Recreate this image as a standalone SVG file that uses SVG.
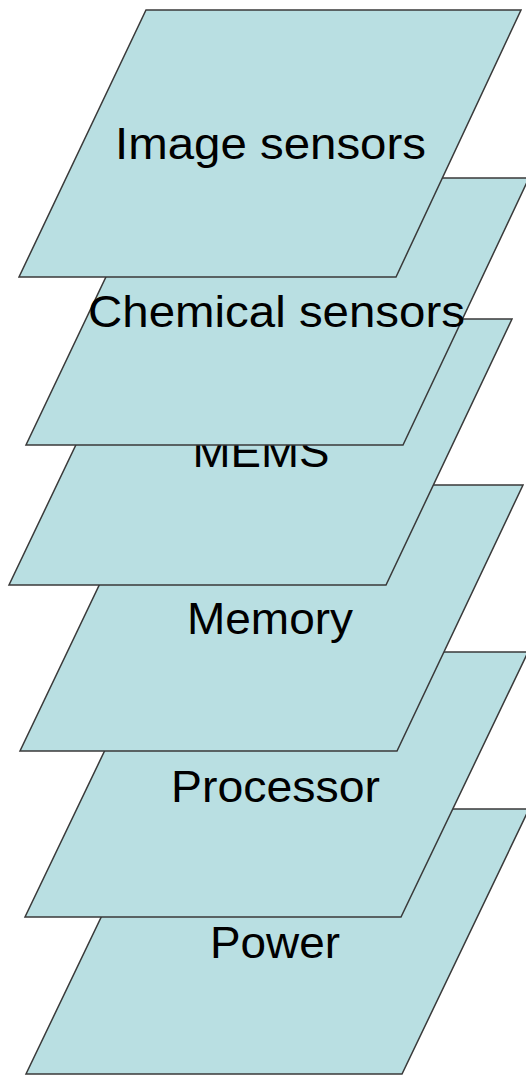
<svg xmlns="http://www.w3.org/2000/svg" width="526" height="1077" viewBox="0 0 526 1077">
  <style>
    .layer { fill: #b9dfe2; stroke: #3a3a3a; stroke-width: 1.5; stroke-linejoin: miter; }
    .label { font-family: "Liberation Sans", Arial, sans-serif; font-size: 45px; fill: #000; text-anchor: middle; }
  </style>
  <rect width="526" height="1077" fill="#ffffff"/>
  <!-- layers drawn bottom-up so each one overlaps the one below -->
  <g id="power">
    <polygon class="layer" points="153,809 529,809 402,1074 26,1074"/>
    <text class="label" x="275" y="958" textLength="130" lengthAdjust="spacingAndGlyphs">Power</text>
  </g>
  <g id="processor">
    <polygon class="layer" points="152,652 528,652 401,917 25,917"/>
    <text class="label" x="275.5" y="802" textLength="209" lengthAdjust="spacingAndGlyphs">Processor</text>
  </g>
  <g id="memory">
    <polygon class="layer" points="147,485 523,485 397,751 20,751"/>
    <text class="label" x="270" y="634" textLength="166" lengthAdjust="spacingAndGlyphs">Memory</text>
  </g>
  <g id="mems">
    <polygon class="layer" points="136,319 512,319 386,585 9,585"/>
    <text class="label" x="261" y="467" textLength="137" lengthAdjust="spacingAndGlyphs">MEMS</text>
  </g>
  <g id="chemical-sensors">
    <polygon class="layer" points="153,178 529,178 403,445 26,445"/>
    <text class="label" x="276.5" y="327" textLength="377" lengthAdjust="spacingAndGlyphs">Chemical sensors</text>
  </g>
  <g id="image-sensors">
    <polygon class="layer" points="146,10 521,10 396,277 19,277"/>
    <text class="label" x="270.5" y="159" textLength="311" lengthAdjust="spacingAndGlyphs">Image sensors</text>
  </g>
  <g id="connectors"/>
</svg>
